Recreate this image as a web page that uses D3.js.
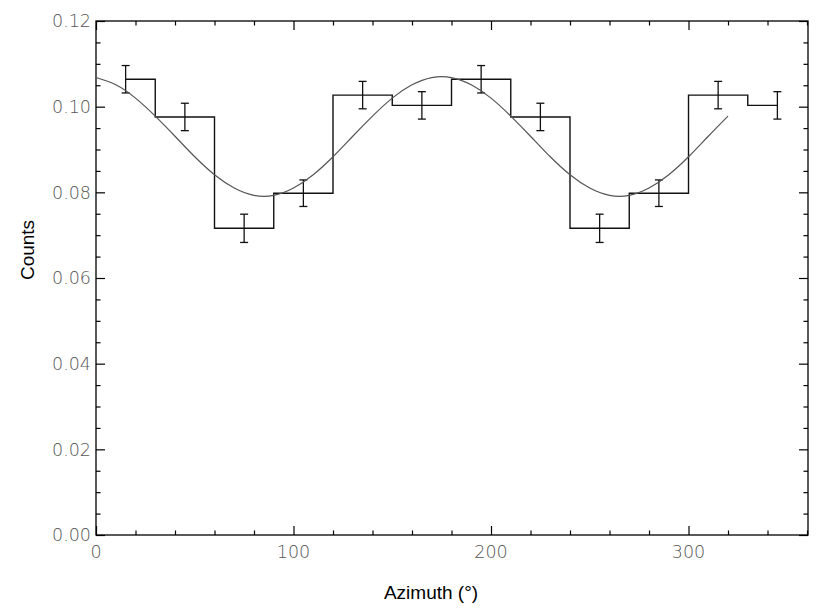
<!DOCTYPE html>
<html>
<head>
<meta charset="utf-8">
<script src="https://cdn.jsdelivr.net/npm/d3@7"></script>
<style>
  body { margin: 0; background: #fff; }
  .ticklab { font-family: "DejaVu Sans", sans-serif; font-weight: 200; font-size: 17.5px; fill: #555; }
  .title { font-family: "Liberation Sans", Arial, sans-serif; font-size: 19px; fill: #000; }
</style>
</head>
<body>
<div id="my_dataviz"></div>
<script>
// histogram bins (bin centres in degrees) and counts with errors
var azimuth = [15, 45, 75, 105, 135, 165, 195, 225, 255, 285, 315, 345];
var counts  = [0.1064, 0.0976, 0.0716, 0.0798, 0.1027, 0.1003, 0.1064, 0.0976, 0.0716, 0.0798, 0.1027, 0.1003];
var errors  = [0.0032, 0.0032, 0.0033, 0.0031, 0.0032, 0.0032, 0.0032, 0.0032, 0.0033, 0.0031, 0.0032, 0.0032];

// fitted curve, every 10 degrees
var fitX = [0, 10, 20, 30, 40, 50, 60, 70, 80, 90, 100, 110, 120, 130, 140, 150, 160, 170,
            180, 190, 200, 210, 220, 230, 240, 250, 260, 270, 280, 290, 300, 310, 320];
var fitY = [0.1068, 0.1051, 0.1020, 0.0978, 0.0931, 0.0883, 0.0841, 0.0810, 0.0793, 0.0793,
            0.0810, 0.0841, 0.0883, 0.0931, 0.0978, 0.1020, 0.1051, 0.1068, 0.1068, 0.1051,
            0.1020, 0.0978, 0.0931, 0.0883, 0.0841, 0.0810, 0.0793, 0.0793, 0.0810, 0.0841,
            0.0883, 0.0931, 0.0978];

// tick values
var xMajor = [0, 100, 200, 300];
var xMinor = [20, 40, 60, 80, 120, 140, 160, 180, 220, 240, 260, 280, 320, 340, 360];
var yMajor = [0.00, 0.02, 0.04, 0.06, 0.08, 0.10, 0.12];
var yMinor = d3.range(0, 0.1201, 0.005).filter(function(v) { return Math.round(v * 1000) % 20 != 0; });

var margin = {top: 21, right: 19, bottom: 75, left: 96},
    width = 827 - margin.left - margin.right,
    height = 610 - margin.top - margin.bottom;

var svg = d3.select("#my_dataviz")
  .append("svg")
    .attr("width", 827)
    .attr("height", 610)
  .append("g")
    .attr("transform", "translate(" + margin.left + "," + margin.top + ")");

var x = d3.scaleLinear()
  .domain([0, 360.5])
  .range([0, width]);

var y = d3.scaleLinear()
  .domain([0, 0.12])
  .range([height, 0]);

// ticks, all pointing inward on the four sides
function tickAxis(axisFn, scale, vals, len) {
  return axisFn(scale).tickValues(vals).tickSize(-len).tickFormat("");
}
function addTicks(g) {
  g.selectAll(".domain").remove();
  g.selectAll("line").attr("stroke", "#000").attr("stroke-width", 1.2);
}
svg.append("g").attr("transform", "translate(0," + height + ")")
  .call(tickAxis(d3.axisBottom, x, xMajor, 9)).call(addTicks);
svg.append("g").attr("transform", "translate(0," + height + ")")
  .call(tickAxis(d3.axisBottom, x, xMinor, 4.5)).call(addTicks);
svg.append("g")
  .call(tickAxis(d3.axisTop, x, xMajor, 9)).call(addTicks);
svg.append("g")
  .call(tickAxis(d3.axisTop, x, xMinor, 4.5)).call(addTicks);
svg.append("g")
  .call(tickAxis(d3.axisLeft, y, yMajor, 9)).call(addTicks);
svg.append("g")
  .call(tickAxis(d3.axisLeft, y, yMinor, 4.5)).call(addTicks);
svg.append("g").attr("transform", "translate(" + width + ",0)")
  .call(tickAxis(d3.axisRight, y, yMajor, 9)).call(addTicks);
svg.append("g").attr("transform", "translate(" + width + ",0)")
  .call(tickAxis(d3.axisRight, y, yMinor, 4.5)).call(addTicks);

// frame
svg.append("rect")
  .attr("width", width)
  .attr("height", height)
  .style("fill", "none")
  .style("stroke", "#000")
  .style("stroke-width", 1.3);

// tick labels
svg.selectAll(".xlab")
  .data(xMajor)
  .enter().append("text")
    .attr("class", "ticklab")
    .attr("x", function(d) { return x(d); })
    .attr("y", height + 23)
    .style("text-anchor", "middle")
    .text(function(d) { return d; });

svg.selectAll(".ylab")
  .data(yMajor)
  .enter().append("text")
    .attr("class", "ticklab")
    .attr("x", -5)
    .attr("y", function(d) { return y(d); })
    .attr("dy", "0.36em")
    .style("text-anchor", "end")
    .text(function(d) { return d3.format(".2f")(d); });

// axis titles
svg.append("text")
  .attr("class", "title")
  .attr("transform", "rotate(-90)")
  .attr("x", -(250 - margin.top))
  .attr("y", 34 - margin.left)
  .style("text-anchor", "middle")
  .text("Counts");

svg.append("text")
  .attr("class", "title")
  .attr("x", 431 - margin.left)
  .attr("y", 599 - margin.top)
  .style("text-anchor", "middle")
  .text("Azimuth (°)");

// histogram drawn as steps between bin centres
var histData = azimuth.map(function(a, i) { return {az: a, c: counts[i]}; });
svg.append("path")
  .datum(histData)
  .attr("d", d3.line()
    .x(function(d) { return x(d.az); })
    .y(function(d) { return y(d.c); })
    .curve(d3.curveStep))
  .style("fill", "none")
  .style("stroke", "#111")
  .style("stroke-width", 1.4);

// error bars
var eb = svg.selectAll(".err")
  .data(histData.map(function(d, i) { return {az: d.az, c: d.c, e: errors[i]}; }))
  .enter().append("g");
eb.append("line")
  .attr("x1", function(d) { return x(d.az); })
  .attr("x2", function(d) { return x(d.az); })
  .attr("y1", function(d) { return y(d.c - d.e); })
  .attr("y2", function(d) { return y(d.c + d.e); });
eb.append("line")
  .attr("x1", function(d) { return x(d.az) - 4; })
  .attr("x2", function(d) { return x(d.az) + 4; })
  .attr("y1", function(d) { return y(d.c - d.e); })
  .attr("y2", function(d) { return y(d.c - d.e); });
eb.append("line")
  .attr("x1", function(d) { return x(d.az) - 4; })
  .attr("x2", function(d) { return x(d.az) + 4; })
  .attr("y1", function(d) { return y(d.c + d.e); })
  .attr("y2", function(d) { return y(d.c + d.e); });
eb.selectAll("line")
  .style("stroke", "#111")
  .style("stroke-width", 1.3);

// fitted curve
svg.append("path")
  .datum(fitX.map(function(v, i) { return [v, fitY[i]]; }))
  .attr("d", d3.line()
    .x(function(d) { return x(d[0]); })
    .y(function(d) { return y(d[1]); })
    .curve(d3.curveNatural))
  .style("fill", "none")
  .style("stroke", "#555")
  .style("stroke-width", 1.2);
</script>
</body>
</html>
